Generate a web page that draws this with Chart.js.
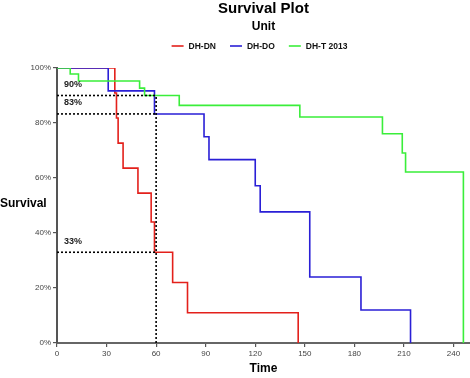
<!DOCTYPE html>
<html>
<head>
<meta charset="utf-8">
<script src="https://cdn.jsdelivr.net/npm/chart.js@4"></script>
<style>
  html, body { margin: 0; padding: 0; background: #fff; }
  #wrap { width: 470px; height: 378px; }
</style>
</head>
<body>
<div id="wrap"><canvas id="survival"></canvas></div>
<script>
// survival steps (time, proportion surviving after that time)
const dnTimes = [0, 35, 36, 37, 40, 49, 57, 59, 70, 79, 146];
const dnSurv  = [1, 0.909, 0.818, 0.727, 0.636, 0.545, 0.44, 0.33, 0.22, 0.11, 0];
const doTimes = [0, 31, 59, 89, 92, 120, 123, 153, 184, 214];
const doSurv  = [1, 0.917, 0.833, 0.75, 0.667, 0.572, 0.477, 0.24, 0.12, 0];
const tTimes  = [0, 8, 13, 50, 53, 74, 147, 197, 209, 211, 246];
const tSurv   = [1, 0.978, 0.953, 0.927, 0.9, 0.864, 0.822, 0.761, 0.691, 0.622, 0];

const seriesNames = ['DH-DN', 'DH-DO', 'DH-T 2013'];
const seriesColors = ['#e3201b', '#2a1fd6', '#3aee3a'];

// dotted reference lines at time 60
const refTime = 60;
const refLevels = [0.9, 0.833, 0.33];
const refLabels = ['90%', '83%', '33%'];

const xTicks = [0, 30, 60, 90, 120, 150, 180, 210, 240];
const yTicks = [0, 0.2, 0.4, 0.6, 0.8, 1];

const FONT = '"Liberation Sans", Arial, sans-serif';

function pts(xs, ys) {
  return xs.map((x, i) => ({ x: x, y: ys[i] }));
}

const curves = [pts(dnTimes, dnSurv), pts(doTimes, doSurv), pts(tTimes, tSurv)];

const datasets = curves.map((d, i) => ({
  label: seriesNames[i],
  data: d,
  borderColor: seriesColors[i],
  borderWidth: 1.6,
  stepped: 'before',
  pointRadius: 0,
  fill: false,
  order: 2 - i
}));

refLevels.forEach(lv => {
  datasets.push({
    data: [{ x: 0, y: lv }, { x: refTime, y: lv }],
    borderColor: '#000',
    borderWidth: 1.6,
    borderDash: [2, 2],
    pointRadius: 0,
    order: -1
  });
});
datasets.push({
  data: [{ x: refTime, y: 0 }, { x: refTime, y: Math.max(...refLevels) }],
  borderColor: '#000',
  borderWidth: 1.6,
  borderDash: [2, 2],
  pointRadius: 0,
  order: -1
});

const decor = {
  id: 'decor',
  afterDraw(chart) {
    const ctx = chart.ctx;
    const area = chart.chartArea;
    const xs = chart.scales.x, ys = chart.scales.y;
    const cx = (area.left + area.right) / 2;
    ctx.save();
    ctx.fillStyle = '#000';
    ctx.textAlign = 'center';
    ctx.textBaseline = 'middle';
    ctx.font = 'bold 15px ' + FONT;
    ctx.fillText('Survival Plot', cx, 9);
    ctx.font = 'bold 12px ' + FONT;
    ctx.fillText('Unit', cx, 27);

    // legend
    ctx.font = 'bold 8.5px ' + FONT;
    const sw = 12, gap = 5, between = 14;
    const widths = seriesNames.map(n => sw + gap + ctx.measureText(n).width);
    const total = widths.reduce((a, b) => a + b, 0) + between * (seriesNames.length - 1);
    let lx = cx - total / 2 - 4;
    const ly = 46;
    ctx.textAlign = 'left';
    seriesNames.forEach((n, i) => {
      ctx.strokeStyle = seriesColors[i];
      ctx.lineWidth = 1.6;
      ctx.beginPath();
      ctx.moveTo(lx, ly);
      ctx.lineTo(lx + sw, ly);
      ctx.stroke();
      ctx.fillStyle = '#111';
      ctx.fillText(n, lx + sw + gap, ly + 0.5);
      lx += widths[i] + between;
    });

    // axis titles
    ctx.font = 'bold 12px ' + FONT;
    ctx.fillStyle = '#000';
    ctx.textAlign = 'left';
    ctx.fillText('Survival', 0, 204);
    ctx.textAlign = 'center';
    ctx.fillText('Time', cx, 369);

    // reference labels
    ctx.font = 'bold 9px ' + FONT;
    ctx.fillStyle = '#222';
    ctx.textAlign = 'left';
    refLevels.forEach((lv, i) => {
      ctx.fillText(refLabels[i], xs.getPixelForValue(0) + 7, ys.getPixelForValue(lv) - 11);
    });
    ctx.restore();
  }
};

new Chart(document.getElementById('survival'), {
  type: 'line',
  data: { datasets: datasets },
  options: {
    responsive: true,
    maintainAspectRatio: false,
    animation: false,
    layout: { padding: { top: 68, right: 0, left: 0, bottom: 0 } },
    plugins: {
      legend: { display: false },
      title: { display: false },
      tooltip: { enabled: false }
    },
    scales: {
      x: {
        type: 'linear',
        min: 0,
        max: 250,
        afterBuildTicks: s => { s.ticks = xTicks.map(v => ({ value: v })); },
        afterFit: s => { s.height = 35; },
        grid: { drawOnChartArea: false, drawTicks: true, tickLength: 4, color: '#555', lineWidth: 1.2 },
        border: { display: true, color: '#666', width: 2 },
        ticks: { padding: 2, color: '#444', font: { family: FONT, size: 8 }, maxRotation: 0 }
      },
      y: {
        min: 0,
        max: 1,
        afterBuildTicks: s => { s.ticks = yTicks.map(v => ({ value: v })); },
        afterFit: s => { s.width = 57; },
        grid: { drawOnChartArea: false, drawTicks: true, tickLength: 4, color: '#555', lineWidth: 1.2 },
        border: { display: true, color: '#555', width: 2 },
        ticks: {
          padding: 2,
          color: '#444',
          font: { family: FONT, size: 8 },
          callback: v => Math.round(v * 100) + '%'
        }
      }
    }
  },
  plugins: [decor]
});
</script>
</body>
</html>
